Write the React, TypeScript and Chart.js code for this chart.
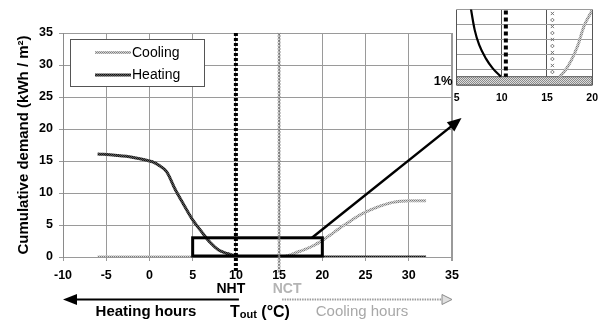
import React, { useEffect, useRef } from "react";
import { Chart, registerables } from "chart.js";

Chart.register(...registerables);

const FONT = '"Liberation Sans", Arial, Helvetica, sans-serif';

// ---------- main chart data ----------
const tempTicks = [-10, -5, 0, 5, 10, 15, 20, 25, 30, 35];
const demandTicks = [0, 5, 10, 15, 20, 25, 30, 35];
const seriesLabels = ["Cooling", "Heating"];
const yTitle = "Cumulative demand (kWh / m\u00B2)";

const heatingT = [-6, -4, -2, 0, 0.5, 1, 2, 3, 4, 5, 6, 7, 8, 9, 10, 11, 32];
const heatingDemand = [16.1, 15.9, 15.6, 15.0, 14.8, 14.4, 13.3, 10.5, 8.1, 5.8, 4.0, 2.3, 1.1, 0.55, 0.15, 0, 0];

const coolingT = [-6, 15, 15.5, 16, 17, 18, 19, 20, 21, 22, 23, 24, 25, 26, 27, 28, 29, 30, 31, 32];
const coolingDemand = [0, 0, 0.05, 0.2, 0.7, 1.2, 1.8, 2.6, 3.5, 4.5, 5.4, 6.3, 7.0, 7.6, 8.1, 8.5, 8.7, 8.8, 8.8, 8.8];

const NHT = 10;
const NCT = 15;
const zoomBoxT = [5, 20];
const zoomBoxDemand = [0, 3];
const zoomArrowT = [18.8, 36.1];
const zoomArrowDemand = [3, 21.7];

const labelNHT = "NHT";
const labelNCT = "NCT";
const labelHeatingHours = "Heating hours";
const labelCoolingHours = "Cooling hours";
const labelT = "T";
const labelTsub = "out";
const labelTunit = " (\u00B0C)";

// ---------- inset data ----------
const insetTicks = [5, 10, 15, 20];
const insetLevels = [0, 1, 2, 3, 4, 5];
const insetHeatingT = [6.5, 6.6, 7.0, 7.5, 8.25, 9.0, 9.9];
const insetHeatingVal = [5.4, 5.0, 3.65, 2.65, 1.75, 1.1, 0.55];
const insetCoolingT = [16.4, 17.0, 17.7, 18.4, 19.1, 20.0];
const insetCoolingVal = [0.55, 0.95, 1.65, 2.6, 3.9, 4.95];
const insetNHT = 10.45;
const insetNCT = 15.6;
const insetBand = [0, 0.55];
const insetBandLabel = "1%";

function makePattern(ctx: CanvasRenderingContext2D, colors: string[][]) {
  const c = document.createElement("canvas");
  c.width = colors[0].length;
  c.height = colors.length;
  const cc = c.getContext("2d")!;
  colors.forEach((row, j) =>
    row.forEach((col, i) => {
      cc.fillStyle = col;
      cc.fillRect(i, j, 1, 1);
    })
  );
  return ctx.createPattern(c, "repeat")!;
}

function arrowHead(ctx: CanvasRenderingContext2D, tx: number, ty: number, ang: number, len: number, half: number) {
  ctx.beginPath();
  ctx.moveTo(tx, ty);
  ctx.lineTo(tx - len * Math.cos(ang) + half * Math.sin(ang), ty - len * Math.sin(ang) - half * Math.cos(ang));
  ctx.lineTo(tx - len * Math.cos(ang) - half * Math.sin(ang), ty - len * Math.sin(ang) + half * Math.cos(ang));
  ctx.closePath();
}

export default function App() {
  const mainRef = useRef<HTMLCanvasElement>(null);
  const insetRef = useRef<HTMLCanvasElement>(null);

  useEffect(() => {
    const mctx = mainRef.current!.getContext("2d")!;
    const ictx = insetRef.current!.getContext("2d")!;
    const coolPat = makePattern(mctx, [["#7d7d7d", "#d6d6d6"], ["#d6d6d6", "#a0a0a0"]]);
    const heatPat = makePattern(mctx, [["#111111", "#5a5a5a"], ["#5a5a5a", "#262626"]]);
    const coolPatI = makePattern(ictx, [["#7d7d7d", "#d6d6d6"], ["#d6d6d6", "#a0a0a0"]]);
    const bandPat = makePattern(ictx, [["#8a8a8a", "#dddddd"], ["#dddddd", "#8a8a8a"]]);

    const mainOverlay = {
      id: "mainOverlay",
      afterDatasetsDraw(chart: any) {
        const { ctx, scales } = chart;
        const x = scales.x, y = scales.y;
        ctx.save();
        // zoom box
        const bx1 = x.getPixelForValue(zoomBoxT[0]);
        const bx2 = x.getPixelForValue(zoomBoxT[1]);
        const by1 = y.getPixelForValue(zoomBoxDemand[1]);
        const by2 = y.getPixelForValue(zoomBoxDemand[0]);
        ctx.strokeStyle = "#000";
        ctx.lineWidth = 3;
        ctx.strokeRect(bx1, by1, bx2 - bx1, by2 - by1 - 1);
        // arrow to inset
        const ax1 = x.getPixelForValue(zoomArrowT[0]);
        const ay1 = y.getPixelForValue(zoomArrowDemand[0]);
        const ax2 = x.getPixelForValue(zoomArrowT[1]);
        const ay2 = y.getPixelForValue(zoomArrowDemand[1]);
        const ang = Math.atan2(ay2 - ay1, ax2 - ax1);
        ctx.lineWidth = 2.5;
        ctx.beginPath();
        ctx.moveTo(ax1, ay1);
        ctx.lineTo(ax2 - 10 * Math.cos(ang), ay2 - 10 * Math.sin(ang));
        ctx.stroke();
        ctx.fillStyle = "#000";
        arrowHead(ctx, ax2, ay2, ang, 14, 6);
        ctx.fill();
        ctx.restore();
      },
      afterDraw(chart: any) {
        const { ctx, scales, chartArea } = chart;
        const x = scales.x;
        ctx.save();
        // NCT marker line
        const cx = x.getPixelForValue(NCT);
        ctx.strokeStyle = "#c4c4c4";
        ctx.lineWidth = 1;
        ctx.beginPath();
        ctx.moveTo(cx, chartArea.top);
        ctx.lineTo(cx, 273);
        ctx.stroke();
        ctx.strokeStyle = "#6a6a6a";
        ctx.lineWidth = 0.8;
        for (let yy = chartArea.top + 1.5; yy < 273; yy += 3.2) {
          ctx.beginPath();
          ctx.moveTo(cx - 1.4, yy - 1.1);
          ctx.lineTo(cx + 1.4, yy + 1.1);
          ctx.moveTo(cx + 1.4, yy - 1.1);
          ctx.lineTo(cx - 1.4, yy + 1.1);
          ctx.stroke();
        }
        // NHT dotted line
        const hx = x.getPixelForValue(NHT);
        ctx.strokeStyle = "#000";
        ctx.lineWidth = 4;
        ctx.setLineDash([3, 2]);
        ctx.beginPath();
        ctx.moveTo(hx, chartArea.top);
        ctx.lineTo(hx, 273);
        ctx.stroke();
        ctx.setLineDash([]);

        // legend
        ctx.fillStyle = "#fff";
        ctx.fillRect(70.5, 39.5, 134, 47);
        ctx.strokeStyle = "#555";
        ctx.lineWidth = 1;
        ctx.strokeRect(70.5, 39.5, 134, 47);
        const legendRows = [
          { label: seriesLabels[0], pat: coolPat, y: 52.5 },
          { label: seriesLabels[1], pat: heatPat, y: 75 },
        ];
        ctx.font = `14px ${FONT}`;
        ctx.textAlign = "left";
        ctx.textBaseline = "middle";
        legendRows.forEach((r) => {
          ctx.strokeStyle = r.pat;
          ctx.lineWidth = 3;
          ctx.beginPath();
          ctx.moveTo(95, r.y);
          ctx.lineTo(131, r.y);
          ctx.stroke();
          ctx.fillStyle = "#000";
          ctx.fillText(r.label, 132, r.y + 0.5);
        });

        // bottom annotations
        ctx.textAlign = "center";
        ctx.textBaseline = "middle";
        ctx.font = `bold 14px ${FONT}`;
        ctx.fillStyle = "#000";
        ctx.fillText(labelNHT, hx - 5, 289);
        ctx.fillStyle = "#b4b4b4";
        ctx.fillText(labelNCT, cx + 8, 289);

        // heating arrow
        ctx.strokeStyle = "#000";
        ctx.lineWidth = 2;
        ctx.beginPath();
        ctx.moveTo(hx + 3, 299.5);
        ctx.lineTo(74, 299.5);
        ctx.stroke();
        ctx.fillStyle = "#000";
        arrowHead(ctx, chartArea.left, 299.5, Math.PI, 14, 5.5);
        ctx.fill();

        // cooling arrow
        ctx.strokeStyle = "#9a9a9a";
        ctx.lineWidth = 2;
        ctx.setLineDash([1.5, 1]);
        ctx.beginPath();
        ctx.moveTo(cx + 3, 299.5);
        ctx.lineTo(chartArea.right - 8, 299.5);
        ctx.stroke();
        ctx.setLineDash([]);
        ctx.fillStyle = "#e0e0e0";
        ctx.strokeStyle = "#8a8a8a";
        ctx.lineWidth = 1;
        arrowHead(ctx, chartArea.right, 299.5, 0, 10, 5);
        ctx.fill();
        ctx.stroke();

        ctx.font = `bold 15px ${FONT}`;
        ctx.fillStyle = "#000";
        ctx.fillText(labelHeatingHours, 146, 311.5);
        ctx.font = `15px ${FONT}`;
        ctx.fillStyle = "#a8a8a8";
        ctx.fillText(labelCoolingHours, 362, 311.5);

        // T_out (°C)
        ctx.textAlign = "left";
        ctx.textBaseline = "alphabetic";
        ctx.fillStyle = "#000";
        ctx.font = `bold 16px ${FONT}`;
        let tx = 230;
        ctx.fillText(labelT, tx, 317);
        tx += ctx.measureText(labelT).width;
        ctx.font = `bold 11px ${FONT}`;
        ctx.fillText(labelTsub, tx, 318);
        tx += ctx.measureText(labelTsub).width;
        ctx.font = `bold 16px ${FONT}`;
        ctx.fillText(labelTunit, tx, 317);
        ctx.restore();
      },
    };

    const main = new Chart(mainRef.current!, {
      type: "line",
      data: {
        datasets: [
          {
            label: seriesLabels[0],
            data: coolingT.map((t, i) => ({ x: t, y: coolingDemand[i] })),
            borderColor: coolPat as any,
            borderWidth: 3,
            pointRadius: 0,
            cubicInterpolationMode: "monotone",
            clip: 0 as any,
          },
          {
            label: seriesLabels[1],
            data: heatingT.map((t, i) => ({ x: t, y: heatingDemand[i] })),
            borderColor: heatPat as any,
            borderWidth: 3,
            pointRadius: 0,
            cubicInterpolationMode: "monotone",
            clip: 0 as any,
          },
        ],
      },
      options: {
        animation: false,
        responsive: false,
        devicePixelRatio: 1,
        layout: { padding: { left: 0, right: 153, top: 33, bottom: 0 } },
        plugins: { legend: { display: false }, tooltip: { enabled: false } },
        events: [],
        scales: {
          x: {
            type: "linear",
            min: -10,
            max: 35,
            afterBuildTicks: (s: any) => {
              s.ticks = tempTicks.map((v) => ({ value: v }));
            },
            afterFit: (s: any) => {
              s.height = 63;
            },
            ticks: {
              font: { family: FONT, size: 12.5, weight: "bold" },
              color: "#000",
              padding: 7,
              maxRotation: 0,
            },
            grid: {
              color: "#9a9a9a",
              tickLength: 4,
              lineWidth: (c: any) => (c.tick && c.tick.value === 35 ? 2 : 1),
            },
            border: { color: "#9a9a9a" },
          },
          y: {
            type: "linear",
            min: 0,
            max: 35,
            afterBuildTicks: (s: any) => {
              s.ticks = demandTicks.map((v) => ({ value: v }));
            },
            afterFit: (s: any) => {
              s.width = 63;
            },
            ticks: {
              font: { family: FONT, size: 12.5, weight: "bold" },
              color: "#000",
              padding: 6,
            },
            grid: { color: "#9a9a9a", tickLength: 4 },
            border: { color: "#8a8a8a" },
            title: {
              display: true,
              text: yTitle,
              color: "#000",
              font: { family: FONT, size: 15, weight: "bold" },
              padding: { top: 15, bottom: 0 },
            },
          },
        },
      },
      plugins: [mainOverlay],
    });

    const insetOverlay = {
      id: "insetOverlay",
      beforeDatasetsDraw(chart: any) {
        const { ctx, scales, chartArea } = chart;
        const y = scales.y;
        ctx.save();
        const t = y.getPixelForValue(insetBand[1]);
        const b = y.getPixelForValue(insetBand[0]);
        ctx.fillStyle = bandPat;
        ctx.fillRect(chartArea.left, t, chartArea.right - chartArea.left, b - t);
        ctx.strokeStyle = "#555";
        ctx.lineWidth = 1;
        ctx.strokeRect(chartArea.left, t, chartArea.right - chartArea.left, b - t);
        ctx.restore();
      },
      afterDatasetsDraw(chart: any) {
        const { ctx, scales, chartArea } = chart;
        const x = scales.x, y = scales.y;
        ctx.save();
        const bandTop = y.getPixelForValue(insetBand[1]);
        const hx = x.getPixelForValue(insetNHT);
        ctx.strokeStyle = "#000";
        ctx.lineWidth = 4;
        ctx.setLineDash([4, 3]);
        ctx.beginPath();
        ctx.moveTo(hx, chartArea.top + 1);
        ctx.lineTo(hx, bandTop);
        ctx.stroke();
        ctx.setLineDash([]);
        const cx = x.getPixelForValue(insetNCT);
        ctx.strokeStyle = "#666";
        ctx.lineWidth = 0.9;
        let k = 0;
        for (let yy = chartArea.top + 4; yy < bandTop - 1; yy += 6.5, k++) {
          ctx.beginPath();
          if (k % 2 === 0) {
            ctx.moveTo(cx - 1.6, yy - 1.6);
            ctx.lineTo(cx + 1.6, yy + 1.6);
            ctx.moveTo(cx + 1.6, yy - 1.6);
            ctx.lineTo(cx - 1.6, yy + 1.6);
          } else {
            ctx.moveTo(cx, yy - 1.8);
            ctx.lineTo(cx + 1.8, yy);
            ctx.lineTo(cx, yy + 1.8);
            ctx.lineTo(cx - 1.8, yy);
            ctx.closePath();
          }
          ctx.stroke();
        }
        ctx.font = `bold 13px ${FONT}`;
        ctx.fillStyle = "#000";
        ctx.textAlign = "right";
        ctx.textBaseline = "middle";
        ctx.fillText(insetBandLabel, chartArea.left - 4, (bandTop + y.getPixelForValue(insetBand[0])) / 2 + 0.5);
        ctx.restore();
      },
    };

    const inset = new Chart(insetRef.current!, {
      type: "line",
      data: {
        datasets: [
          {
            data: insetHeatingT.map((t, i) => ({ x: t, y: insetHeatingVal[i] })),
            borderColor: "#000",
            borderWidth: 2.2,
            pointRadius: 0,
            cubicInterpolationMode: "monotone",
            clip: 0 as any,
          },
          {
            data: insetCoolingT.map((t, i) => ({ x: t, y: insetCoolingVal[i] })),
            borderColor: coolPatI as any,
            borderWidth: 3,
            pointRadius: 0,
            cubicInterpolationMode: "monotone",
            clip: 0 as any,
          },
        ],
      },
      options: {
        animation: false,
        responsive: false,
        devicePixelRatio: 1,
        events: [],
        layout: { padding: { left: 36.6, right: 10.4, top: 9.5, bottom: 0 } },
        plugins: { legend: { display: false }, tooltip: { enabled: false } },
        scales: {
          x: {
            type: "linear",
            min: 5,
            max: 20,
            afterBuildTicks: (s: any) => {
              s.ticks = insetTicks.map((v) => ({ value: v }));
            },
            afterFit: (s: any) => {
              s.height = 30;
            },
            ticks: {
              font: { family: FONT, size: 10.5, weight: "bold" },
              color: "#000",
              padding: 7,
              maxRotation: 0,
            },
            grid: { color: "#555", drawTicks: false },
            border: { display: false },
          },
          y: {
            type: "linear",
            min: 0,
            max: 5,
            afterBuildTicks: (s: any) => {
              s.ticks = insetLevels.map((v) => ({ value: v }));
            },
            afterFit: (s: any) => {
              s.width = 0;
            },
            ticks: { display: false },
            grid: { color: "#9a9a9a", drawTicks: false },
            border: { display: false },
          },
        },
      },
      plugins: [insetOverlay],
    });

    return () => {
      main.destroy();
      inset.destroy();
    };
  }, []);

  return (
    <div style={{ position: "fixed", left: 0, top: 0, width: 605, height: 320, background: "#fff" }}>
      <canvas ref={mainRef} width={605} height={320} style={{ position: "absolute", left: 0, top: 0 }} />
      <canvas ref={insetRef} width={185} height={115} style={{ position: "absolute", left: 420, top: 0 }} />
    </div>
  );
}
